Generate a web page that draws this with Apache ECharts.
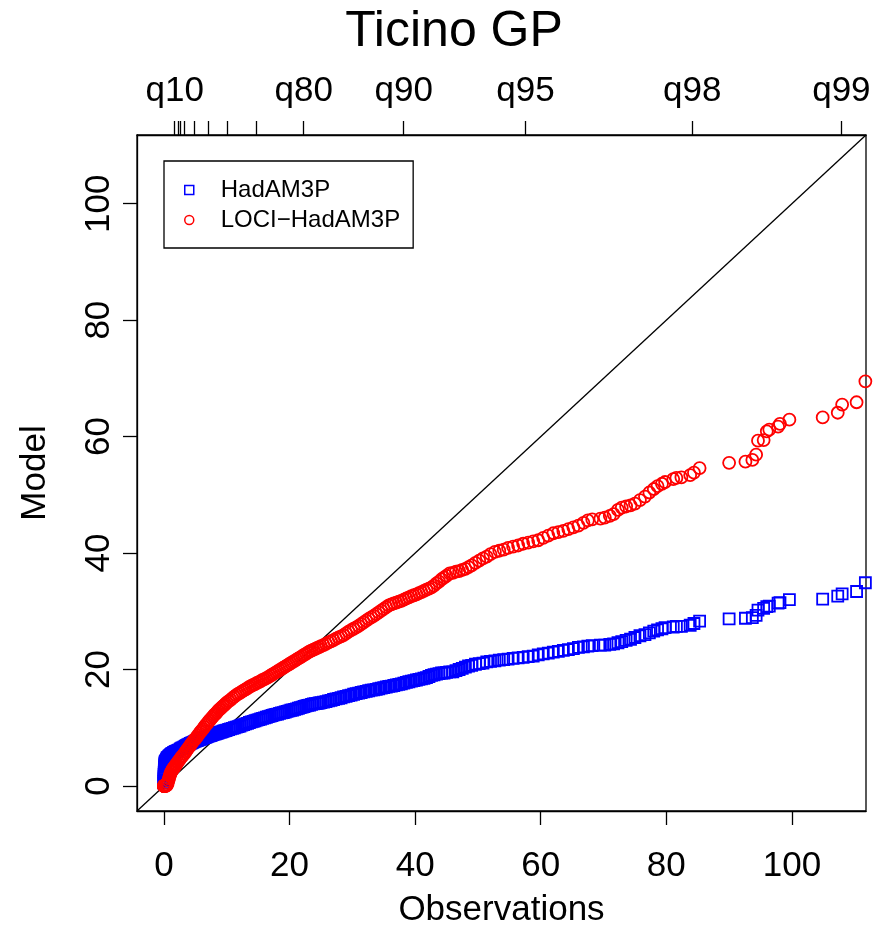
<!DOCTYPE html>
<html>
<head>
<meta charset="utf-8">
<script src="https://cdn.jsdelivr.net/npm/echarts@6/dist/echarts.min.js"></script>
<style>
  html, body { margin: 0; padding: 0; background: #fff; }
  #chart { width: 886px; height: 930px; }
</style>
</head>
<body>
<div id="chart"></div>
<script>
// Sorted observed daily values (x) shared by both model quantile series
const obs = [
  0, 0, 0, 0, 0.01, 0.02, 0.03, 0.05, 0.06, 0.08, 0.1, 0.12, 0.15,
  0.2, 0.3, 0.4, 0.5, 0.6, 0.7, 0.8, 0.9, 1.0, 1.1, 1.2, 1.3, 1.4, 1.5, 1.6, 1.7, 1.8, 1.9, 2.0,
  2.2, 2.4, 2.6, 2.8, 3.0, 3.2, 3.4, 3.6, 3.8, 4.0, 4.2, 4.4, 4.6, 4.8, 5.0, 5.2, 5.4, 5.6, 5.8, 6.0,
  6.2, 6.4, 6.6, 6.8, 7.0, 7.2, 7.4, 7.6, 7.8, 8.0, 8.2, 8.4, 8.6, 8.8, 9.0, 9.2, 9.4, 9.6, 9.8, 10.0,
  10.3, 10.6, 10.9, 11.2, 11.5, 11.8, 12.1, 12.4, 12.7, 13.0, 13.3, 13.6, 13.9, 14.2, 14.5, 14.8, 15.1,
  15.4, 15.7, 16.0, 16.3, 16.6, 16.9, 17.2, 17.5, 17.8, 18.1, 18.4, 18.7, 19.0, 19.3, 19.6, 19.9, 20.2,
  20.5, 20.8, 21.1, 21.4, 21.7, 22.0, 22.3, 22.6, 22.9, 23.2, 23.5, 23.8, 24.1, 24.4, 24.7, 25.0,
  25.4, 25.8, 26.2, 26.6, 27.0, 27.4, 27.8, 28.2, 28.6, 29.0, 29.4, 29.8, 30.2, 30.6, 31.0, 31.4, 31.8,
  32.2, 32.6, 33.0, 33.4, 33.8, 34.2, 34.6, 35.0, 35.4, 35.8, 36.2, 36.6, 37.0, 37.4, 37.8, 38.2, 38.6,
  39.0, 39.4, 39.8,
  40.2, 40.6, 41.0, 41.4, 41.8, 42.2, 42.6, 43.0, 43.4, 43.8, 44.2, 44.6, 45.0, 45.5, 46.0, 46.5, 47.0,
  47.5, 48.0, 48.5, 49.0, 49.6, 50.2, 50.8, 51.4, 52.0, 52.7, 53.4, 54.1, 54.8, 55.6, 56.4, 57.2, 58.0,
  58.8, 59.6, 60.4, 61.2, 62.0, 62.8, 63.6, 64.4, 65.2, 66.0, 66.8, 67.5, 68.2, 69.5, 70.2, 71.0, 71.6,
  72.3, 72.9, 73.6, 74.3, 75.0, 75.8, 76.6, 77.3, 78.0, 78.6, 79.3, 79.8, 81.1, 81.6, 82.4, 83.8, 84.4, 85.3,
  90.0, 92.6, 93.7, 94.3, 94.6, 95.5, 96.0, 96.4, 97.8, 98.1, 99.6, 104.9, 107.3, 108.0, 110.3, 111.7
];

// HadAM3P quantiles at the same ranks
const hadam = [
  0.5, 0.8, 1.1, 1.4, 1.7, 2.0, 2.3, 2.6, 2.9, 3.2, 3.5, 3.8, 4.0,
  4.2, 4.4, 4.6, 4.8, 4.9, 5.0, 5.1, 5.2, 5.3, 5.4, 5.5, 5.55, 5.6, 5.7, 5.75, 5.8, 5.9, 5.95, 6.0,
  6.1, 6.2, 6.35, 6.5, 6.6, 6.7, 6.85, 6.95, 7.1, 7.2, 7.3, 7.4, 7.5, 7.6, 7.7, 7.8, 7.85, 7.95, 8.0, 8.1,
  8.2, 8.3, 8.35, 8.45, 8.5, 8.6, 8.65, 8.75, 8.8, 8.9, 8.95, 9.05, 9.1, 9.2, 9.25, 9.3, 9.4, 9.45, 9.5, 9.6,
  9.7, 9.8, 9.9, 10.0, 10.1, 10.2, 10.3, 10.45, 10.55, 10.65, 10.75, 10.9, 11.0, 11.1, 11.2, 11.3, 11.4,
  11.5, 11.6, 11.7, 11.8, 11.9, 12.0, 12.1, 12.2, 12.3, 12.35, 12.45, 12.55, 12.6, 12.7, 12.8, 12.9, 13.0,
  13.05, 13.15, 13.25, 13.35, 13.45, 13.55, 13.65, 13.75, 13.85, 13.9, 14.0, 14.1, 14.15, 14.2, 14.25, 14.3,
  14.4, 14.5, 14.6, 14.7, 14.85, 14.95, 15.05, 15.15, 15.3, 15.4, 15.5, 15.6, 15.75, 15.85, 15.95, 16.05, 16.15,
  16.25, 16.35, 16.45, 16.5, 16.6, 16.7, 16.8, 16.9, 17.0, 17.1, 17.15, 17.25, 17.35, 17.45, 17.55, 17.65, 17.8,
  17.9, 18.0, 18.1,
  18.2, 18.3, 18.4, 18.5, 18.6, 18.8, 19.0, 19.1, 19.2, 19.3, 19.4, 19.4, 19.5, 19.6, 19.6, 19.8, 20.0,
  20.2, 20.4, 20.6, 20.7, 20.9, 21.0, 21.1, 21.3, 21.4, 21.5, 21.6, 21.7, 21.8, 21.9, 22.0, 22.1, 22.2,
  22.3, 22.5, 22.7, 22.8, 23.0, 23.1, 23.3, 23.4, 23.6, 23.8, 23.9, 24.0, 24.1, 24.2, 24.2, 24.3, 24.4,
  24.6, 24.8, 25.0, 25.2, 25.5, 25.8, 26.0, 26.3, 26.6, 26.8, 27.0, 27.2, 27.3, 27.4, 27.4, 27.6, 27.9, 28.3,
  28.7, 28.8, 28.9, 29.3, 30.2, 30.5, 30.8, 30.9, 31.4, 31.5, 32.0, 32.1, 32.6, 33.0, 33.4, 34.9
];

// LOCI-HadAM3P quantiles at the same ranks
const loci = [
  0, 0, 0, 0, 0, 0, 0, 0, 0, 0, 0, 0, 0,
  0, 0, 0.1, 0.2, 0.5, 0.9, 1.3, 1.7, 2.0, 2.3, 2.5, 2.7, 2.9, 3.0, 3.2, 3.3, 3.5, 3.6, 3.8,
  4.1, 4.4, 4.7, 5.0, 5.2, 5.5, 5.8, 6.1, 6.4, 6.7, 7.0, 7.3, 7.6, 7.9, 8.1, 8.4, 8.7, 9.0, 9.3, 9.5,
  9.8, 10.1, 10.4, 10.6, 10.9, 11.2, 11.4, 11.7, 11.9, 12.2, 12.4, 12.6, 12.9, 13.1, 13.3, 13.5, 13.7, 13.9, 14.1, 14.3,
  14.55, 14.8, 15.1, 15.35, 15.6, 15.8, 16.0, 16.2, 16.4, 16.6, 16.8, 17.0, 17.2, 17.35, 17.5, 17.7, 17.85,
  18.0, 18.2, 18.35, 18.5, 18.7, 18.9, 19.1, 19.3, 19.5, 19.7, 19.9, 20.1, 20.3, 20.5, 20.7, 20.9, 21.1,
  21.3, 21.5, 21.7, 21.9, 22.1, 22.3, 22.5, 22.7, 22.9, 23.1, 23.25, 23.4, 23.55, 23.7, 23.85, 24.0,
  24.2, 24.4, 24.65, 24.85, 25.05, 25.3, 25.5, 25.7, 25.9, 26.2, 26.5, 26.75, 27.0, 27.25, 27.5, 27.8, 28.1,
  28.4, 28.7, 28.95, 29.2, 29.5, 29.8, 30.1, 30.4, 30.7, 31.0, 31.2, 31.35, 31.5, 31.65, 31.8, 32.0, 32.2,
  32.4, 32.6, 32.75,
  32.9, 33.1, 33.3, 33.5, 33.7, 33.9, 34.1, 34.4, 34.8, 35.1, 35.5, 35.8, 36.1, 36.5, 36.6, 36.8, 36.9,
  37.1, 37.3, 37.6, 37.9, 38.3, 38.7, 39.1, 39.4, 39.8, 40.2, 40.4, 40.6, 40.9, 41.1, 41.3, 41.6, 41.8,
  42.0, 42.2, 42.6, 43.0, 43.4, 43.6, 43.8, 44.1, 44.4, 44.7, 45.2, 45.6, 45.8, 45.9, 46.1, 46.4, 46.7,
  47.4, 47.8, 48.0, 48.2, 48.5, 49.1, 49.7, 50.4, 51.0, 51.5, 51.9, 52.2, 52.7, 52.9, 53.0, 53.4, 53.8, 54.6,
  55.5, 55.7, 56.0, 56.9, 59.3, 59.4, 60.9, 61.2, 61.7, 62.2, 62.9, 63.3, 64.1, 65.5, 65.9, 69.5
];

// Observed quantiles marked on the top axis
const quantileTicks  = [1.70, 2.23, 2.61, 3.30, 4.89, 7.01, 10.09, 14.71, 22.24, 38.18, 57.56, 84.14, 107.88];
const quantileLabels = ['q10', '', '', '', '', '', '', '', 'q80', 'q90', 'q95', 'q98', 'q99'];

const axisTicks = [0, 20, 40, 60, 80, 100];
const axisMin = -4.3;
const axisMax = 111.8;

const seriesNames = ['HadAM3P', 'LOCI\u2212HadAM3P'];

const FONT = '"Liberation Sans", Arial, Helvetica, sans-serif';
const chart = echarts.init(document.getElementById('chart'), null, { renderer: 'canvas' });

const labelledQ = quantileTicks.filter((v, i) => quantileLabels[i] !== '');
const qLabelOf = v => {
  const i = quantileTicks.findIndex(t => Math.abs(t - v) < 1e-9);
  return i >= 0 ? quantileLabels[i] : '';
};

const valueAxisBase = {
  type: 'value',
  min: axisMin,
  max: axisMax,
  splitLine: { show: false },
  axisLine: { show: true, onZero: false, lineStyle: { color: '#000', width: 1.3 } },
  axisTick: { show: true, inside: false, length: 14, lineStyle: { color: '#000', width: 1.3 }, customValues: axisTicks },
  axisLabel: { color: '#000', fontFamily: FONT, fontSize: 35, customValues: axisTicks }
};

chart.setOption({
  animation: false,
  backgroundColor: '#fff',
  title: {
    text: 'Ticino GP',
    left: 449,
    textAlign: 'center',
    top: 2,
    textStyle: { fontFamily: FONT, fontSize: 50, fontWeight: 'normal', color: '#000' }
  },
  legend: {
    orient: 'vertical',
    left: 164,
    top: 161,
    padding: [17, 13, 16, 20],
    itemGap: 6,
    itemWidth: 9,
    itemHeight: 9,
    borderColor: '#000',
    borderWidth: 1.3,
    borderRadius: 0,
    itemStyle: { borderWidth: 1.5 },
    textStyle: { fontFamily: FONT, fontSize: 24, lineHeight: 24, color: '#000', padding: [0, 0, 0, 22] },
    data: seriesNames
  },
  grid: {
    left: 137, right: 20, top: 135, bottom: 119,
    outerBoundsMode: 'none',
    containLabel: false,
    show: true, borderColor: '#000', borderWidth: 1.3, backgroundColor: 'transparent'
  },
  xAxis: [
    Object.assign({}, valueAxisBase, {
      position: 'bottom',
      name: 'Observations',
      nameLocation: 'middle',
      nameGap: 82,
      nameTextStyle: { fontFamily: FONT, fontSize: 35, color: '#000' },
      axisLabel: Object.assign({}, valueAxisBase.axisLabel, { margin: 38 })
    }),
    Object.assign({}, valueAxisBase, {
      position: 'top',
      axisTick: Object.assign({}, valueAxisBase.axisTick, { customValues: quantileTicks }),
      axisLabel: Object.assign({}, valueAxisBase.axisLabel, {
        customValues: labelledQ,
        margin: 26,
        formatter: v => qLabelOf(v)
      })
    })
  ],
  yAxis: [
    Object.assign({}, valueAxisBase, {
      position: 'left',
      name: 'Model',
      nameLocation: 'middle',
      nameGap: 84,
      nameRotate: 90,
      nameTextStyle: { fontFamily: FONT, fontSize: 35, color: '#000' },
      axisLabel: Object.assign({}, valueAxisBase.axisLabel, { rotate: 90, margin: 20 })
    })
  ],
  series: [
    {
      name: 'identity',
      type: 'line',
      xAxisIndex: 0,
      data: [[axisMin, axisMin], [axisMax, axisMax]],
      showSymbol: false,
      symbol: 'none',
      lineStyle: { color: '#000', width: 1.3 },
      silent: true,
      z: 1
    },
    {
      name: seriesNames[0],
      type: 'scatter',
      xAxisIndex: 0,
      data: obs.map((x, i) => [x, hadam[i]]),
      symbol: 'rect',
      symbolSize: 11,
      itemStyle: { color: 'transparent', borderColor: '#0000ff', borderWidth: 1.8, opacity: 1 },
      z: 2
    },
    {
      name: seriesNames[1],
      type: 'scatter',
      xAxisIndex: 0,
      data: obs.map((x, i) => [x, loci[i]]),
      symbol: 'circle',
      symbolSize: 12,
      itemStyle: { color: 'transparent', borderColor: '#ff0000', borderWidth: 1.8, opacity: 1 },
      z: 3
    }
  ]
});
</script>
</body>
</html>
